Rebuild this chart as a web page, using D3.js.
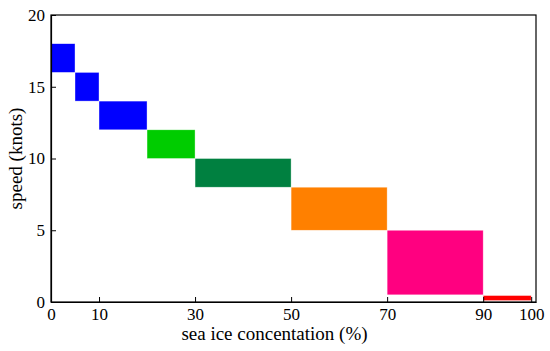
<!DOCTYPE html>
<html><head><meta charset="utf-8">
<script src="https://cdn.jsdelivr.net/npm/d3@7"></script>
<style>body{margin:0;background:#fff}svg{display:block}</style>
</head><body>
<svg id="c" width="550" height="351"></svg>
<script>
// data
const xStart = [0, 5, 10, 20, 30, 50, 70, 90];
const xEnd   = [5, 10, 20, 30, 50, 70, 90, 100];
const speedLow  = [16, 14, 12, 10, 8, 5, 0.5, 0.1];
const speedHigh = [18, 16, 14, 12, 10, 8, 5, 0.45];
const colors = ["#0000ff", "#0000ff", "#0000ff", "#00cc00", "#008040", "#ff8000", "#ff0080", "#ff0000"];
const xTicks = [0, 10, 30, 50, 70, 90, 100];
const yTicks = [0, 5, 10, 15, 20];

const svg = d3.select("#c");
const x = d3.scaleLinear().domain([0, 101]).range([51, 536]);
const y = d3.scaleLinear().domain([0, 20]).range([302, 15]);
const font = "Liberation Serif, Times New Roman, serif";

// bars
svg.append("g").selectAll("rect").data(xStart).join("rect")
  .attr("x", (d, i) => x(xStart[i]))
  .attr("width", (d, i) => x(xEnd[i]) - x(xStart[i]))
  .attr("y", (d, i) => y(speedHigh[i]))
  .attr("height", (d, i) => y(speedLow[i]) - y(speedHigh[i]))
  .attr("fill", (d, i) => colors[i])
  .attr("stroke", "#fff").attr("stroke-width", 0.6).attr("stroke-opacity", 0.6);

// frame
svg.append("rect").attr("x", x(0)).attr("y", y(20))
  .attr("width", x(101) - x(0)).attr("height", y(0) - y(20))
  .attr("fill", "none").attr("stroke", "#000").attr("stroke-width", 1.2);

// axes
const xAxis = svg.append("g").attr("transform", `translate(0,${y(0)})`)
  .call(d3.axisBottom(x).tickValues(xTicks).tickSizeInner(-5).tickSizeOuter(0).tickPadding(6));
const yAxis = svg.append("g").attr("transform", `translate(${x(0)},0)`)
  .call(d3.axisLeft(y).tickValues(yTicks).tickSizeInner(-5).tickSizeOuter(0).tickPadding(6));
[xAxis, yAxis].forEach(g => {
  g.select(".domain").attr("stroke", "#000").attr("stroke-width", 1.2);
  g.selectAll(".tick line").attr("stroke", "#000").attr("stroke-width", 1);
  g.selectAll(".tick text").attr("font-family", font).attr("font-size", 17).attr("fill", "#000");
});

// titles
svg.append("text").attr("x", 274.5).attr("y", 340).attr("text-anchor", "middle")
  .attr("font-family", font).attr("font-size", 19).text("sea ice concentation (%)");
svg.append("text").attr("transform", `translate(22,${(y(0)+y(20))/2}) rotate(-90)`)
  .attr("text-anchor", "middle")
  .attr("font-family", font).attr("font-size", 19).text("speed (knots)");
</script>
</body></html>
